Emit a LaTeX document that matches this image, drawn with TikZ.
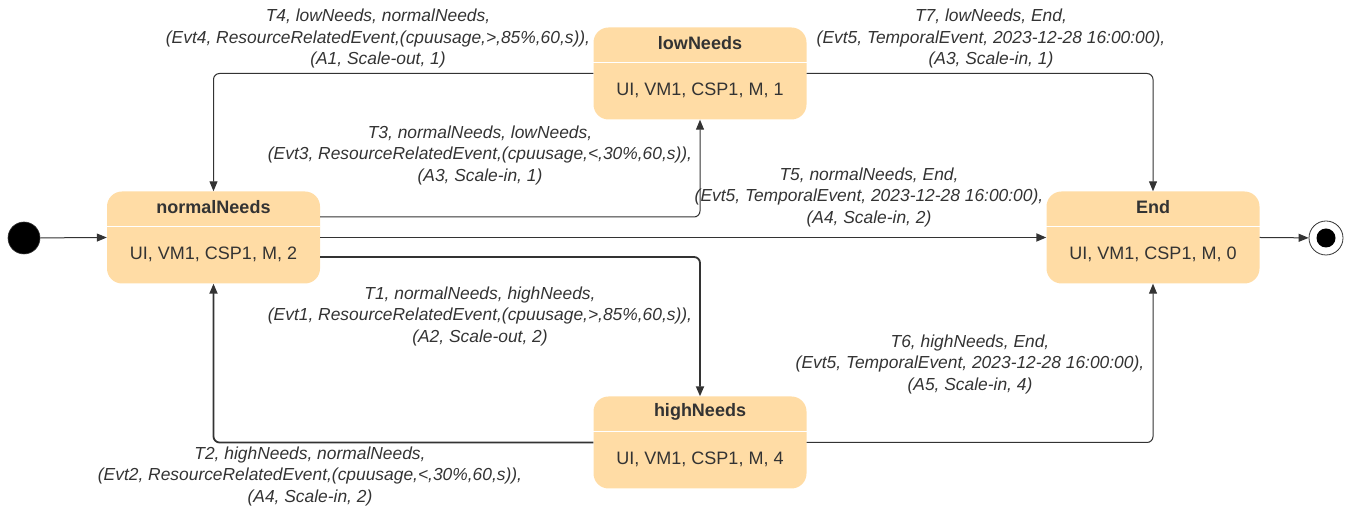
\documentclass[tikz,border=0pt]{standalone}
\usepackage{fontspec}
\setmainfont{Liberation Sans}
\usetikzlibrary{arrows.meta,positioning}
\definecolor{statefill}{HTML}{FFDCA5}
\definecolor{ink}{HTML}{333333}
\tikzset{
  statebox/.style={draw=none, fill=statefill, rounded corners=15pt,
    minimum width=213pt, minimum height=92pt, inner sep=0pt},
  sttitle/.style={font=\fontsize{18}{20}\selectfont\bfseries, text=ink, inner sep=0pt},
  stbody/.style={font=\fontsize{18}{20}\selectfont, text=ink, inner sep=0pt},
  divider/.style={draw=white, line width=1.2pt},
  trans/.style={draw=ink, line width=1pt, rounded corners=6pt,
    -{Triangle[length=10pt,width=8pt]}},
  transbold/.style={trans, line width=1.8pt},
  tlabel/.style={font=\fontsize{17.4}{21.5}\selectfont\itshape, text=ink,
    align=center, inner sep=0pt},
}
\newcommand{\umlstate}[4]{%
  % #1 name, #2 centre, #3 title, #4 body
  \node[statebox] (#1) at (#2) {};
  \node[sttitle, anchor=center] (#1-t) at ([yshift=-15.5pt]#1.north) {#3};
  \draw[divider] ([yshift=-35pt]#1.north west) -- ([yshift=-35pt]#1.north east);
  \node[stbody, anchor=center] (#1-b) at ([yshift=-63pt]#1.north) {#4};
}
\begin{document}
\begin{tikzpicture}[x=1pt,y=1pt]
\useasboundingbox (0,0) rectangle (1350,508);

% states
\umlstate{normal}{213.5,270.5}{normalNeeds}{UI, VM1, CSP1, M, 2}
\umlstate{low}{700,434.5}{lowNeeds}{UI, VM1, CSP1, M, 1}
\umlstate{endst}{1153,270.5}{End}{UI, VM1, CSP1, M, 0}
\umlstate{high}{700,65.5}{highNeeds}{UI, VM1, CSP1, M, 4}

% pseudo states
\node[circle, fill=black, draw=ink, line width=0.6pt, minimum size=32pt, inner sep=0pt] (init) at (24,270) {};
\node[circle, draw=ink, fill=white, line width=0.8pt, minimum size=34pt, inner sep=0pt] (fin) at (1326,270) {};
\node[circle, fill=black, minimum size=19pt, inner sep=0pt] (fin-in) at (fin) {};

% transitions
\draw[trans] (init) -- (normal.west);
\draw[trans] (endst.east) -- (fin);
\draw[trans] (low.west) -| (normal.north);
\draw[trans] (low.east) -| (endst.north);
\draw[trans] ([yshift=20.5pt]normal.east) -| (low.south);
\draw[transbold] (normal.east) -- (endst.west);
\draw[transbold] ([yshift=-19.5pt]normal.east) -| (high.north);
\draw[transbold] (high.west) -| (normal.south);
\draw[trans] (high.east) -| (endst.south);

% transition labels
\node[tlabel] (lT4) at (378,469) {T4, lowNeeds, normalNeeds,\\(Evt4, ResourceRelatedEvent,(cpuusage,>,85\%,60,s)),\\(A1, Scale-out, 1)};
\node[tlabel] (lT7) at (991,469) {T7, lowNeeds, End,\\(Evt5, TemporalEvent, 2023-12-28 16:00:00),\\(A3, Scale-in, 1)};
\node[tlabel] (lT3) at (480,352.5) {T3, normalNeeds, lowNeeds,\\(Evt3, ResourceRelatedEvent,(cpuusage,<,30\%,60,s)),\\(A3, Scale-in, 1)};
\node[tlabel] (lT5) at (869,310.5) {T5, normalNeeds, End,\\(Evt5, TemporalEvent, 2023-12-28 16:00:00),\\(A4, Scale-in, 2)};
\node[tlabel] (lT1) at (480,191.5) {T1, normalNeeds, highNeeds,\\(Evt1, ResourceRelatedEvent,(cpuusage,>,85\%,60,s)),\\(A2, Scale-out, 2)};
\node[tlabel] (lT6) at (970,143.5) {T6, highNeeds, End,\\(Evt5, TemporalEvent, 2023-12-28 16:00:00),\\(A5, Scale-in, 4)};
\node[tlabel] (lT2) at (310,31.5) {T2, highNeeds, normalNeeds,\\(Evt2, ResourceRelatedEvent,(cpuusage,<,30\%,60,s)),\\(A4, Scale-in, 2)};
\end{tikzpicture}
\end{document}
